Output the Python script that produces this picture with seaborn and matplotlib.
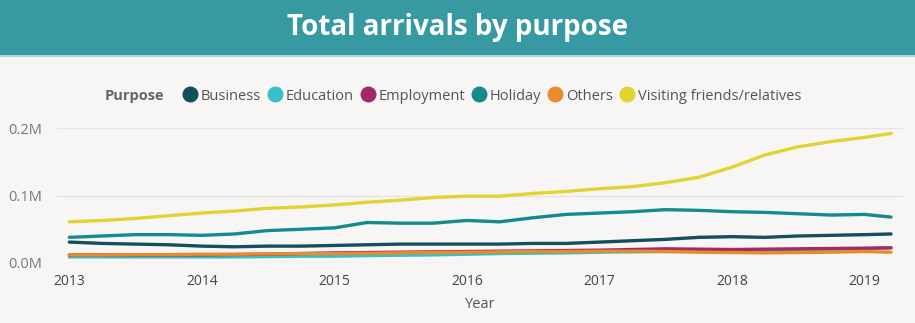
import matplotlib
matplotlib.use("Agg")
import matplotlib.pyplot as plt
import matplotlib.dates as mdates
from matplotlib.lines import Line2D
from matplotlib.patches import Rectangle
from matplotlib.ticker import FuncFormatter, FixedLocator
import numpy as np
import pandas as pd
import seaborn as sns

# Quarterly observation dates
dates = ["2013-01-01", "2013-04-01", "2013-07-01", "2013-10-01",
         "2014-01-01", "2014-04-01", "2014-07-01", "2014-10-01",
         "2015-01-01", "2015-04-01", "2015-07-01", "2015-10-01",
         "2016-01-01", "2016-04-01", "2016-07-01", "2016-10-01",
         "2017-01-01", "2017-04-01", "2017-07-01", "2017-10-01",
         "2018-01-01", "2018-04-01", "2018-07-01", "2018-10-01",
         "2019-01-01", "2019-03-15"]

# Arrivals (thousands) by purpose of visit
business = [31, 29, 28, 27, 25, 24, 25, 25, 26, 27, 28, 28, 28,
            28, 29, 29, 31, 33, 35, 38, 39, 38, 40, 41, 42, 43]
education = [9, 9, 9, 9, 9, 9, 9.5, 10, 10, 11, 11.5, 12, 13,
             14, 14.5, 15, 16, 16.5, 17, 17, 17, 18, 19, 20, 21, 22.5]
employment = [12, 12, 12, 12, 12, 12.5, 13, 14, 15, 15.5, 16, 16.5, 17,
              17.5, 18, 18.5, 19, 20, 21, 20.5, 20, 20.5, 21, 21.5, 22, 22.5]
holiday = [38, 40, 42, 42, 41, 43, 48, 50, 52, 60, 59, 59, 63,
           61, 67, 72, 74, 76, 79, 78, 76, 75, 73, 71, 72, 68]
others = [12, 12, 12.5, 12.5, 13, 13, 13.5, 14, 14, 14.5, 15, 15.5, 16,
          16.5, 17, 17, 17.5, 17.5, 17, 16, 15.5, 15, 15.5, 16, 17, 16]
visiting = [61, 63, 66, 70, 74, 77, 81, 83, 86, 90, 93, 97, 99,
            99, 103, 106, 110, 113, 119, 127, 142, 160, 172, 180, 186, 192]

purposes = ["Business", "Education", "Employment", "Holiday", "Others",
            "Visiting friends/relatives"]
series = [business, education, employment, holiday, others, visiting]
colors = ["#134F5C", "#34C2CA", "#A52A63", "#16898F", "#E98A2B", "#E2D430"]

year_ticks = ["2013", "2014", "2015", "2016", "2017", "2018", "2019"]
value_ticks = [0, 100000, 200000]

frames = []
for name, vals in zip(purposes, series):
    frames.append(pd.DataFrame({
        "Year": pd.to_datetime(dates),
        "Arrivals": np.array(vals) * 1000,
        "Purpose": name,
    }))
df = pd.concat(frames, ignore_index=True)

sns.set_theme(style="white")
FONT = ["Open Sans", "DejaVu Sans"]
plt.rcParams["font.family"] = FONT

W, H = 915, 323
BG = "#F8F6F4"
fig = plt.figure(figsize=(W / 100, H / 100), dpi=100, facecolor=BG)

# Header band
fig.patches.append(Rectangle((0, 1 - 55 / H), 1, 55 / H, transform=fig.transFigure,
                             facecolor="#379AA3", edgecolor="none", zorder=0))
fig.patches.append(Rectangle((0, 1 - 57 / H), 1, 2 / H, transform=fig.transFigure,
                             facecolor="#A9D8DB", edgecolor="none", zorder=0))
fig.text(0.5, 1 - 28 / H, "Total arrivals by purpose", color="white",
         fontsize=20, fontweight="bold", ha="center", va="center", family=FONT)

left, right = 57 / W, 903 / W
bottom, top = (H - 263) / H, (H - 121.25) / H
ax = fig.add_axes([left, bottom, right - left, top - bottom])
ax.set_facecolor(BG)

sns.lineplot(data=df, x="Year", y="Arrivals", hue="Purpose", hue_order=purposes,
             palette=colors, linewidth=2.4, legend=False, ax=ax)

ax.set_xlim(pd.Timestamp("2012-11-28"), pd.Timestamp("2019-04-17"))
ax.set_ylim(0, 210000)
ax.xaxis.set_major_locator(FixedLocator(mdates.date2num(pd.to_datetime(year_ticks))))
ax.xaxis.set_major_formatter(mdates.DateFormatter("%Y"))
ax.yaxis.set_major_locator(FixedLocator(value_ticks))
ax.yaxis.set_major_formatter(FuncFormatter(lambda v, p: f"{v / 1e6:.1f}M"))

ax.grid(axis="y", color="#E6E4E2", linewidth=1)
ax.grid(axis="x", visible=False)
for s in ax.spines.values():
    s.set_visible(False)
ax.tick_params(axis="both", length=0, labelsize=10, labelcolor="#666666")
ax.tick_params(axis="x", pad=8, labelcolor="#444444")
ax.tick_params(axis="y", pad=11, labelsize=10.5, labelcolor="#777777")
ax.set_ylabel("")
ax.set_xlabel("Year", fontsize=10.5, color="#555555", labelpad=6)

# Legend
fig.text(105 / W, 1 - 96 / H, "Purpose", fontsize=10.5, fontweight="bold",
         color="#666666", ha="left", va="center")
handles = [Line2D([], [], linestyle="none", marker="o", markersize=10.5,
                  markerfacecolor=c, markeredgecolor=c) for c in colors]
fig.legend(handles, purposes, loc="center left", bbox_to_anchor=(170 / W, 1 - 96 / H),
           ncol=6, frameon=False, handletextpad=0.3, columnspacing=0.5,
           handlelength=0.9, fontsize=10.5, labelcolor="#555555")

fig.savefig("out.png", dpi=100, facecolor=fig.get_facecolor())
